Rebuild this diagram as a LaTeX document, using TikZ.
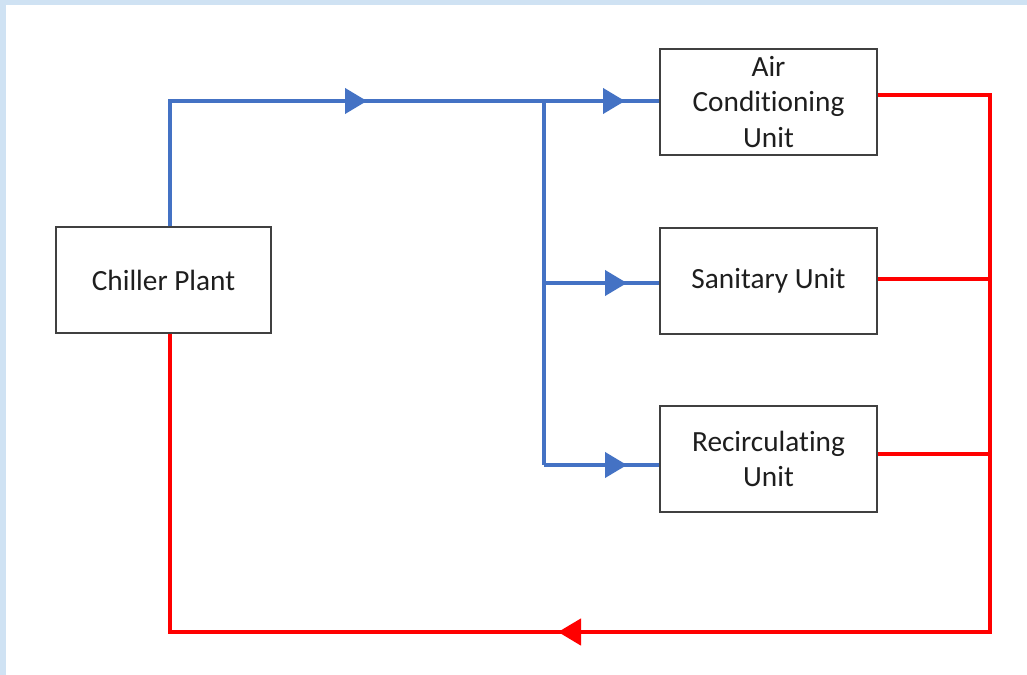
\documentclass[tikz,border=0pt]{standalone}
\usepackage{fontspec}
\setmainfont{Carlito}[Ligatures=NoCommon]
\usepackage{xcolor}
\usetikzlibrary{arrows.meta,positioning}
\definecolor{pipeblue}{RGB}{68,114,196}
\definecolor{pipered}{RGB}{255,0,0}
\definecolor{framebg}{RGB}{207,226,243}
\definecolor{boxgray}{RGB}{64,64,64}
\definecolor{txtgray}{RGB}{30,30,30}

\begin{document}
\begin{tikzpicture}[
  x=0.03cm, y=-0.03cm,
  unitbox/.style={draw=boxgray, rectangle, line width=1.1pt, minimum width=6.51cm, minimum height=3.18cm,
                  align=center, text=txtgray, font=\fontsize{25}{30}\selectfont},
  suppline/.style={draw=pipeblue, line width=3.4pt},
  retline/.style={draw=pipered, line width=3.9pt},
  supparr/.style={suppline, -{Triangle[length=0.66cm, width=0.75cm]}},
  retarr/.style={retline, -{Triangle[length=0.69cm, width=0.78cm]}},
]

% ============ frame ============
\useasboundingbox (0,0) rectangle (1027,675);
\fill[framebg] (0,0) rectangle (1027,675);
\fill[white] (6,5) rectangle (1027,675);

% ============ boxes ============
\node[unitbox, minimum width=6.45cm] (chiller) at (163.5,280) {Chiller Plant};
\node[unitbox] (acunit) at (768.5,102) {Air\\Conditioning\\Unit};
\node[unitbox] (sanunit) at (768.5,281) {Sanitary Unit};
\node[unitbox] (recunit) at (768.5,459) {Recirculating\\Unit};

% ============ helper points ============
\coordinate (supplytop) at (170,101);
\coordinate (suparr1) at (367,101);
\coordinate (suparr2) at (625,101);
\coordinate (split) at (544,101);
\coordinate (splitsan) at (544,283);
\coordinate (splitrec) at (544,465);
\coordinate (sanarr) at (627,283);
\coordinate (recarr) at (627,465);
\coordinate (retac) at (990,95);
\coordinate (retsan) at (990,279);
\coordinate (retrec) at (990,454);
\coordinate (retcorner) at (990,632);
\coordinate (retarrow) at (558,632);
\coordinate (retleft) at (170,632);

% ===================== SUPPLY (blue) =====================
% chiller up and over to the air conditioning unit
\draw[suppline] (chiller.north -| supplytop) |- (acunit.west |- supplytop);
\draw[supparr] (chiller.north -| supplytop) |- (suparr1);
\draw[supparr] (split) -- (suparr2);
% branch down to the other two units
\draw[suppline] (split) -- (splitrec);
\draw[suppline] (splitsan) -- (sanunit.west |- splitsan);
\draw[supparr] (splitsan) -- (sanarr);
\draw[suppline] (splitrec) -- (recunit.west |- splitrec);
\draw[supparr] (splitrec) -- (recarr);

% ===================== RETURN (red) =====================
\draw[retline] (acunit.east |- retac) -- (retac) -- (retcorner) -- (retleft) -- (chiller.south -| retleft);
\draw[retline] (sanunit.east |- retsan) -- (retsan);
\draw[retline] (recunit.east |- retrec) -- (retrec);
\draw[retarr] (retcorner) -- (retarrow);

\end{tikzpicture}
\end{document}
